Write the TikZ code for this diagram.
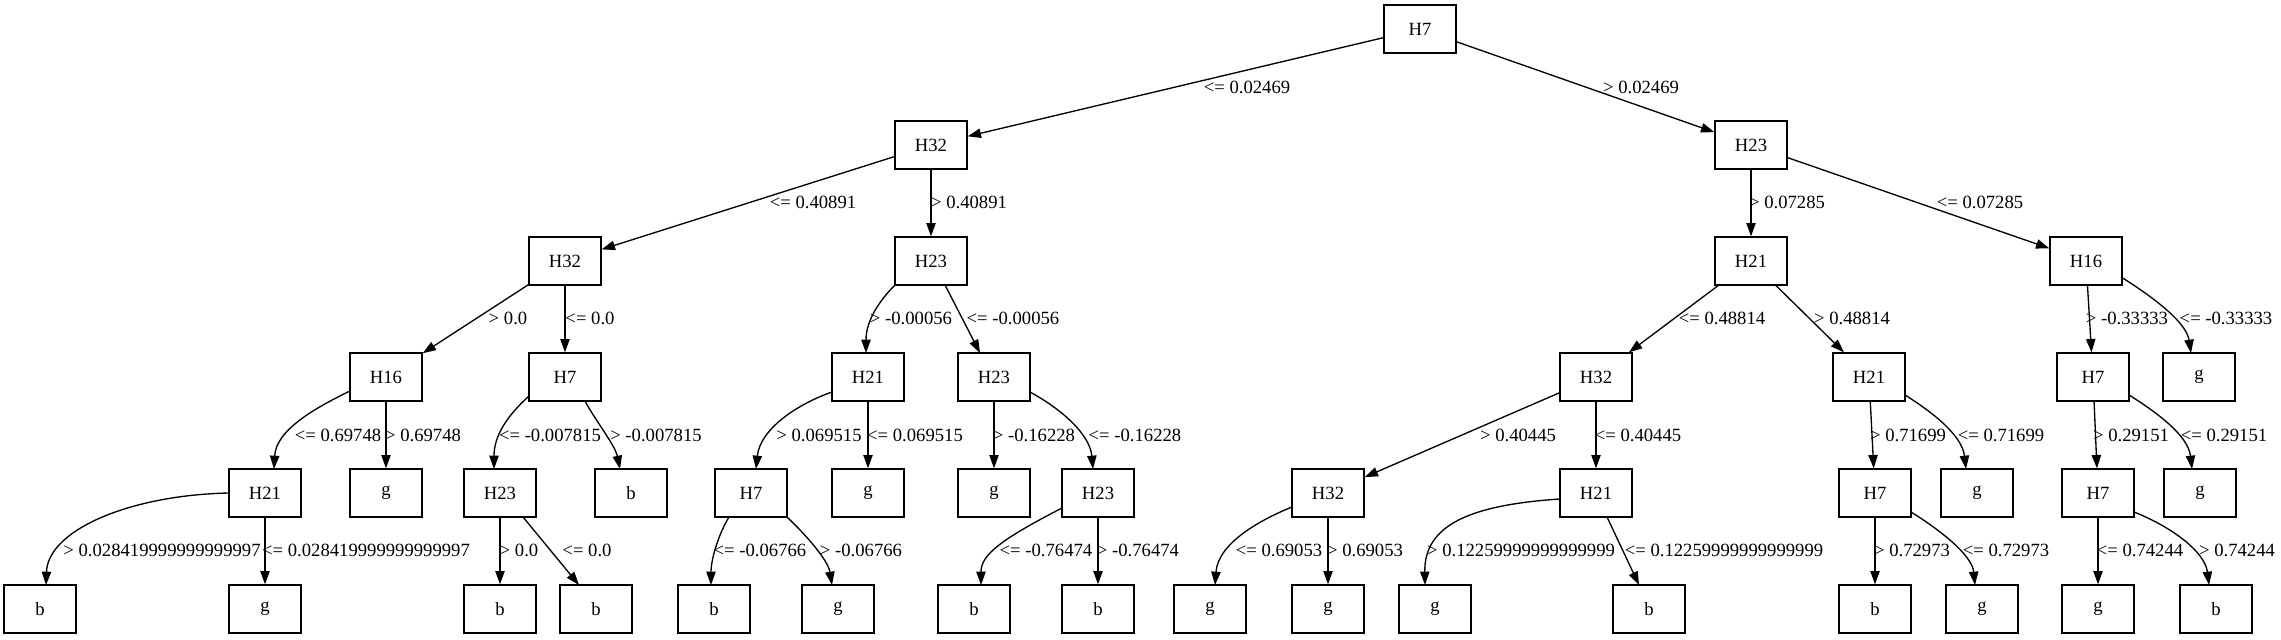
\documentclass[tikz,border=0pt]{standalone}
\usepackage{fontspec}
\setmainfont{Liberation Serif}
\usetikzlibrary{arrows.meta,calc}
\begin{document}
\begin{tikzpicture}[x=0.75pt,y=-0.75pt,
  tnode/.style={draw,line width=1pt,minimum width=54pt,minimum height=36pt,inner sep=0pt,font=\fontsize{14}{16}\selectfont},
  lbl/.style={inner sep=0pt,font=\fontsize{14}{16}\selectfont},
  edge/.style={line width=1pt,-{Triangle[length=10pt,width=7pt]}}]
\useasboundingbox (0,0) rectangle (2281,639);
% row 0
\node[tnode] (n0) at (1420,29) {H7};
% row 1
\node[tnode] (n1) at (931,145) {H32};
\node[tnode] (n2) at (1751,145) {H23};
% row 2
\node[tnode] (n3) at (565,261) {H32};
\node[tnode] (n4) at (931,261) {H23};
\node[tnode] (n5) at (1751,261) {H21};
\node[tnode] (n6) at (2086,261) {H16};
% row 3
\node[tnode] (n7) at (386,377) {H16};
\node[tnode] (n8) at (565,377) {H7};
\node[tnode] (n9) at (868,377) {H21};
\node[tnode] (n10) at (994,377) {H23};
\node[tnode] (n11) at (1596,377) {H32};
\node[tnode] (n12) at (1869,377) {H21};
\node[tnode] (n13) at (2093,377) {H7};
\node[tnode] (n14) at (2199,377) {g};
% row 4
\node[tnode] (n15) at (265,493) {H21};
\node[tnode] (n16) at (386,493) {g};
\node[tnode] (n17) at (500,493) {H23};
\node[tnode] (n18) at (631,493) {b};
\node[tnode] (n19) at (751,493) {H7};
\node[tnode] (n20) at (868,493) {g};
\node[tnode] (n21) at (994,493) {g};
\node[tnode] (n22) at (1098,493) {H23};
\node[tnode] (n23) at (1328,493) {H32};
\node[tnode] (n24) at (1596,493) {H21};
\node[tnode] (n25) at (1875,493) {H7};
\node[tnode] (n26) at (1977,493) {g};
\node[tnode] (n27) at (2098,493) {H7};
\node[tnode] (n28) at (2200,493) {g};
% row 5
\node[tnode] (n29) at (40,609) {b};
\node[tnode] (n30) at (265,609) {g};
\node[tnode] (n31) at (500,609) {b};
\node[tnode] (n32) at (596,609) {b};
\node[tnode] (n33) at (714,609) {b};
\node[tnode] (n34) at (838,609) {g};
\node[tnode] (n35) at (974,609) {b};
\node[tnode] (n36) at (1098,609) {b};
\node[tnode] (n37) at (1210,609) {g};
\node[tnode] (n38) at (1328,609) {g};
\node[tnode] (n39) at (1435,609) {g};
\node[tnode] (n40) at (1649,609) {b};
\node[tnode] (n41) at (1875,609) {b};
\node[tnode] (n42) at (1982,609) {g};
\node[tnode] (n43) at (2098,609) {g};
\node[tnode] (n44) at (2216,609) {b};

% edges row 0-1
\draw[edge] (n0) -- (n1);
\draw[edge] (n0) -- (n2);
% row 1-2
\draw[edge] (n1) -- (n3);
\draw[edge] (n1) -- (n4);
\draw[edge] (n2) -- (n5);
\draw[edge] (n2) -- (n6);
% row 2-3
\draw[edge] (n3) -- (n7);
\draw[edge] (n3) -- (n8);
\draw[edge] ($(n4)+(-36,24)$) .. controls (880,300) and (866,320) .. ($(n9)+(-2,-24)$);
\draw[edge] ($(n4)+(14,24)$) -- ($(n10)+(-14,-24)$);
\draw[edge] (n5) -- (n11);
\draw[edge] (n5) -- (n12);
\draw[edge] (n6) -- (n13);
\draw[edge] ($(n6)+(35,16)$) .. controls (2145,292) and (2186,320) .. ($(n14)+(-8,-24)$);
% row 3-4
\draw[edge] ($(n7)+(-36,14)$) .. controls (315,408) and (276,430) .. ($(n15)+(9,-24)$);
\draw[edge] (n7) -- (n16);
\draw[edge] ($(n8)+(-36,19)$) .. controls (508,415) and (494,435) .. ($(n17)+(-6,-24)$);
\draw[edge] ($(n8)+(20,24)$) .. controls (595,420) and (615,445) .. ($(n18)+(-11,-24)$);
\draw[edge] ($(n9)+(-36,15)$) .. controls (795,405) and (760,430) .. ($(n19)+(5,-24)$);
\draw[edge] (n9) -- (n20);
\draw[edge] (n10) -- (n21);
\draw[edge] ($(n10)+(36,15)$) .. controls (1063,410) and (1090,435) .. ($(n22)+(-5,-24)$);
\draw[edge] (n11) -- (n23);
\draw[edge] (n11) -- (n24);
\draw[edge] (n12) -- (n25);
\draw[edge] ($(n12)+(36,18)$) .. controls (1932,412) and (1962,435) .. ($(n26)+(-11,-24)$);
\draw[edge] (n13) -- (n27);
\draw[edge] ($(n13)+(36,18)$) .. controls (2156,412) and (2188,435) .. ($(n28)+(-8,-24)$);
% row 4-5
\draw[edge] ($(n15)+(-36,0)$) .. controls (130,495) and (48,530) .. ($(n29)+(6,-24)$);
\draw[edge] (n15) -- (n30);
\draw[edge] (n17) -- (n31);
\draw[edge] ($(n17)+(23,24)$) -- ($(n32)+(-17,-24)$);
\draw[edge] ($(n19)+(-22,24)$) .. controls (718,535) and (711,560) .. ($(n33)+(-3,-24)$);
\draw[edge] ($(n19)+(36,24)$) .. controls (806,535) and (828,560) .. ($(n34)+(-6,-24)$);
\draw[edge] ($(n22)+(-36,15)$) .. controls (1000,540) and (981,555) .. ($(n35)+(7,-24)$);
\draw[edge] (n22) -- (n36);
\draw[edge] ($(n23)+(-36,14)$) .. controls (1255,522) and (1218,545) .. ($(n37)+(5,-24)$);
\draw[edge] (n23) -- (n38);
\draw[edge] ($(n24)+(-36,6)$) .. controls (1470,505) and (1424,525) .. ($(n39)+(-10,-24)$);
\draw[edge] ($(n24)+(11,24)$) -- ($(n40)+(-10,-24)$);
\draw[edge] (n25) -- (n41);
\draw[edge] ($(n25)+(36,19)$) .. controls (1940,530) and (1972,555) .. ($(n42)+(-7,-24)$);
\draw[edge] (n27) -- (n43);
\draw[edge] ($(n27)+(36,19)$) .. controls (2172,527) and (2205,552) .. ($(n44)+(-7,-24)$);

% labels
\node[lbl] (l0) at (1247,87) {<= 0.02469};
\node[lbl] (l1) at (1641,87) {> 0.02469};
\node[lbl] (l2) at (813,202) {<= 0.40891};
\node[lbl] (l3) at (969,202) {> 0.40891};
\node[lbl] (l4) at (1787,202) {> 0.07285};
\node[lbl] (l5) at (1980,202) {<= 0.07285};
\node[lbl] (l6) at (508,318) {> 0.0};
\node[lbl] (l7) at (590,318) {<= 0.0};
\node[lbl] (l8) at (911,318) {> -0.00056};
\node[lbl] (l9) at (1013,318) {<= -0.00056};
\node[lbl] (l10) at (1722,318) {<= 0.48814};
\node[lbl] (l11) at (1852,318) {> 0.48814};
\node[lbl] (l12) at (2127,318) {> -0.33333};
\node[lbl] (l13) at (2226,318) {<= -0.33333};
\node[lbl] (l14) at (338,435) {<= 0.69748};
\node[lbl] (l15) at (423,435) {> 0.69748};
\node[lbl] (l16) at (550,435) {<= -0.007815};
\node[lbl] (l17) at (656,435) {> -0.007815};
\node[lbl] (l18) at (819,435) {> 0.069515};
\node[lbl] (l19) at (915,435) {<= 0.069515};
\node[lbl] (l20) at (1034,435) {> -0.16228};
\node[lbl] (l21) at (1135,435) {<= -0.16228};
\node[lbl] (l22) at (1518,435) {> 0.40445};
\node[lbl] (l23) at (1638,435) {<= 0.40445};
\node[lbl] (l24) at (1908,435) {> 0.71699};
\node[lbl] (l25) at (2001,435) {<= 0.71699};
\node[lbl] (l26) at (2131,435) {> 0.29151};
\node[lbl] (l27) at (2224,435) {<= 0.29151};
\node[lbl] (l28) at (162,550) {> 0.028419999999999997};
\node[lbl] (l29) at (366,550) {<= 0.028419999999999997};
\node[lbl] (l30) at (519,550) {> 0.0};
\node[lbl] (l31) at (587,550) {<= 0.0};
\node[lbl] (l32) at (760,550) {<= -0.06766};
\node[lbl] (l33) at (861,550) {> -0.06766};
\node[lbl] (l34) at (1046,550) {<= -0.76474};
\node[lbl] (l35) at (1138,550) {> -0.76474};
\node[lbl] (l36) at (1279,550) {<= 0.69053};
\node[lbl] (l37) at (1365,550) {> 0.69053};
\node[lbl] (l38) at (1521,550) {> 0.12259999999999999};
\node[lbl] (l39) at (1724,550) {<= 0.12259999999999999};
\node[lbl] (l40) at (1912,550) {> 0.72973};
\node[lbl] (l41) at (2006,550) {<= 0.72973};
\node[lbl] (l42) at (2140,550) {<= 0.74244};
\node[lbl] (l43) at (2237,550) {> 0.74244};
\end{tikzpicture}
\end{document}
